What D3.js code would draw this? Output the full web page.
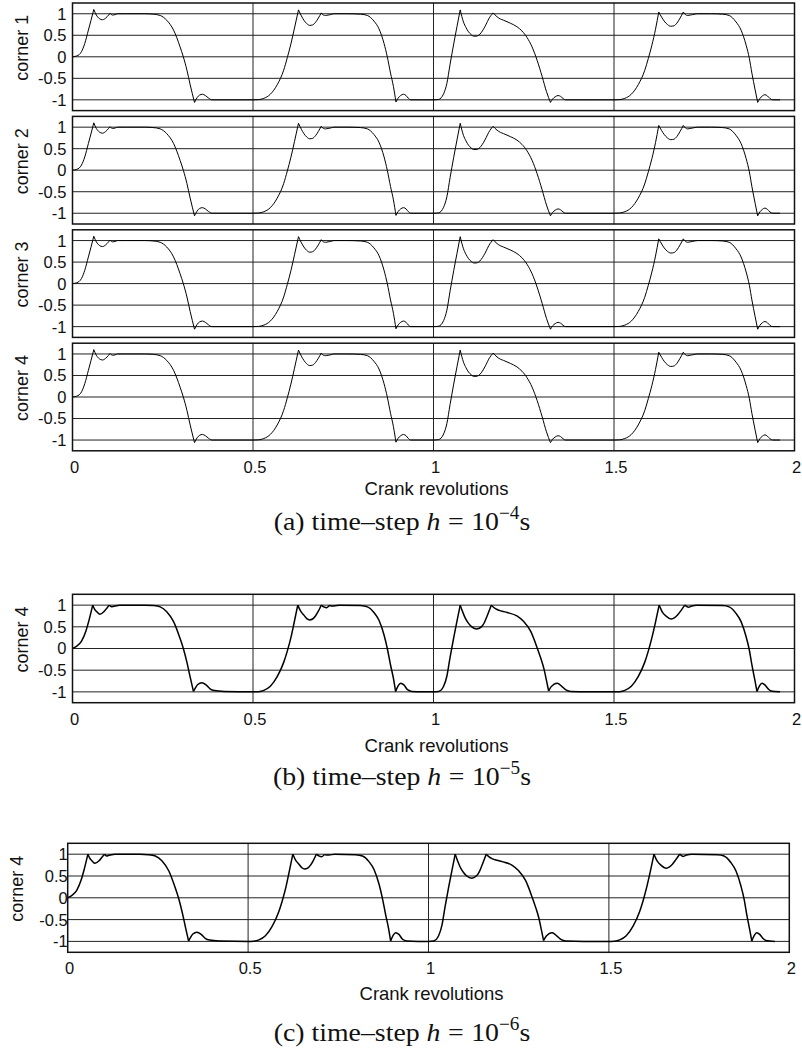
<!DOCTYPE html>
<html><head><meta charset="utf-8">
<script src="https://cdn.jsdelivr.net/npm/d3@7"></script>
<style>body{margin:0;background:#fff}svg{display:block}</style>
</head><body><svg id="chart" width="802" height="1053"></svg>
<script>
// ---------- data ----------
const xTickValues = [0, 0.5, 1, 1.5, 2];
const xTickLabels = ["0", "0.5", "1", "1.5", "2"];
const yTickValues = [1, 0.5, 0, -0.5, -1];
const yTickLabels = ["1", "0.5", "0", "-0.5", "-1"];
const xGridValues = [0.5, 1, 1.5];
const panelACorners = ["corner 1", "corner 2", "corner 3", "corner 4"];
const panelBCorners = ["corner 4"];
const panelCCorners = ["corner 4"];
const xAxisTitle = "Crank revolutions";
const captionLetters = ["(a)", "(b)", "(c)"];
const captionExponents = ["−4", "−5", "−6"];

// corner response, time-step 1e-4 s  (segments split at cusps; [revolutions, value])
const responseStep4 = [
  [[0,0],[0.012,0.02],[0.025,0.12],[0.034,0.31],[0.044,0.62],[0.051,0.84],[0.059,1.1]],
  [[0.059,1.1],[0.066,0.97],[0.074,0.89],[0.083,0.86],[0.092,0.9],[0.1,0.97],[0.104,1.01]],
  [[0.104,1.01],[0.111,0.97],[0.118,0.98],[0.125,1.0],[0.15,1.0],[0.2,1.0],[0.224,0.99],[0.243,0.96],[0.261,0.85],[0.28,0.62],[0.298,0.23],[0.307,0],[0.317,-0.31],[0.326,-0.65],[0.338,-1.06]],
  [[0.338,-1.06],[0.345,-0.95],[0.352,-0.89],[0.36,-0.87],[0.368,-0.9],[0.377,-0.96],[0.386,-1.0],[0.45,-1.0],[0.5,-1.0],[0.515,-0.995],[0.53,-0.965],[0.548,-0.87],[0.567,-0.65],[0.585,-0.31],[0.595,-0.02],[0.605,0.3],[0.615,0.67],[0.626,1.09]],
  [[0.626,1.09],[0.634,0.95],[0.641,0.85],[0.649,0.77],[0.657,0.73],[0.665,0.74],[0.673,0.8],[0.681,0.9],[0.689,1.02]],
  [[0.689,1.02],[0.695,0.97],[0.701,0.96],[0.708,0.97],[0.715,0.98],[0.724,1.0],[0.76,1.0],[0.798,0.99],[0.817,0.96],[0.835,0.83],[0.849,0.65],[0.863,0.31],[0.872,0],[0.881,-0.38],[0.889,-0.69],[0.896,-1.05]],
  [[0.896,-1.05],[0.902,-0.96],[0.909,-0.9],[0.917,-0.87],[0.924,-0.9],[0.93,-0.96],[0.937,-1.0],[0.97,-1.0],[1.0,-1.0],[1.014,-0.99],[1.028,-0.86],[1.037,-0.62],[1.046,-0.17],[1.056,0.3],[1.065,0.7],[1.074,1.09]],
  [[1.074,1.09],[1.083,0.81],[1.09,0.68],[1.097,0.58],[1.104,0.52],[1.111,0.48],[1.118,0.48],[1.125,0.5],[1.132,0.56],[1.139,0.65],[1.146,0.76],[1.153,0.88],[1.165,1.02]],
  [[1.165,1.02],[1.176,0.93],[1.185,0.88],[1.194,0.85],[1.213,0.78],[1.231,0.7],[1.245,0.6],[1.259,0.45],[1.273,0.23],[1.287,-0.08],[1.301,-0.46],[1.313,-0.81],[1.324,-1.06]],
  [[1.324,-1.06],[1.33,-0.98],[1.337,-0.93],[1.345,-0.9],[1.352,-0.92],[1.359,-0.97],[1.366,-1.0],[1.43,-1],[1.5,-1],[1.515,-0.995],[1.53,-0.965],[1.548,-0.87],[1.567,-0.65],[1.585,-0.32],[1.595,-0.04],[1.605,0.27],[1.615,0.64],[1.624,1.04]],
  [[1.624,1.04],[1.632,0.92],[1.639,0.83],[1.648,0.75],[1.657,0.71],[1.666,0.72],[1.674,0.78],[1.683,0.9],[1.692,1.04]],
  [[1.692,1.04],[1.698,0.98],[1.704,0.96],[1.711,0.97],[1.718,0.98],[1.731,1.0],[1.77,1.0],[1.801,0.99],[1.819,0.96],[1.838,0.81],[1.852,0.62],[1.866,0.27],[1.875,-0.04],[1.882,-0.38],[1.891,-0.77],[1.898,-1.06]],
  [[1.898,-1.06],[1.904,-0.97],[1.911,-0.91],[1.918,-0.88],[1.925,-0.91],[1.932,-0.97],[1.94,-1.0],[1.96,-1.0]]
];

// corner 4 response, time-steps 1e-5 s and 1e-6 s
const responseFine = [
  [[0,0],[0.011,0.05],[0.025,0.17],[0.037,0.4],[0.046,0.66],[0.056,1.0]],
  [[0.056,1.0],[0.061,0.91],[0.067,0.85],[0.076,0.79],[0.087,0.85],[0.095,0.93],[0.102,1.0]],
  [[0.102,1.0],[0.108,0.96],[0.113,0.97],[0.118,0.98],[0.13,1.0],[0.2,1.0],[0.224,0.99],[0.243,0.96],[0.261,0.85],[0.28,0.62],[0.298,0.23],[0.307,0],[0.317,-0.32],[0.326,-0.66],[0.335,-0.99]],
  [[0.335,-0.99],[0.341,-0.9],[0.347,-0.83],[0.358,-0.79],[0.37,-0.84],[0.381,-0.93],[0.393,-0.97],[0.42,-0.99],[0.5,-1.0],[0.515,-0.995],[0.53,-0.965],[0.548,-0.87],[0.567,-0.65],[0.585,-0.32],[0.595,-0.06],[0.605,0.25],[0.614,0.6],[0.624,1.0]],
  [[0.624,1.0],[0.632,0.86],[0.641,0.77],[0.649,0.69],[0.657,0.66],[0.665,0.68],[0.673,0.75],[0.681,0.86],[0.689,1.0]],
  [[0.689,1.0],[0.696,0.96],[0.704,0.94],[0.711,0.99]],
  [[0.711,0.99],[0.717,0.98],[0.724,0.98],[0.74,1.0],[0.798,0.99],[0.817,0.96],[0.835,0.83],[0.849,0.65],[0.863,0.31],[0.872,0],[0.881,-0.38],[0.889,-0.69],[0.895,-0.99]],
  [[0.895,-0.99],[0.902,-0.86],[0.909,-0.8],[0.918,-0.84],[0.928,-0.95],[0.94,-0.99],[0.97,-1.0],[1.0,-1.0],[1.014,-0.99],[1.028,-0.87],[1.037,-0.64],[1.046,-0.2],[1.056,0.25],[1.065,0.63],[1.074,1.0]],
  [[1.074,1.0],[1.081,0.84],[1.088,0.7],[1.097,0.58],[1.106,0.5],[1.12,0.45],[1.134,0.51],[1.141,0.6],[1.148,0.74],[1.16,1.0]],
  [[1.16,1.0],[1.168,0.94],[1.176,0.9],[1.19,0.86],[1.204,0.83],[1.231,0.75],[1.25,0.62],[1.269,0.4],[1.287,0.02],[1.297,-0.22],[1.306,-0.47],[1.313,-0.74],[1.319,-0.98]],
  [[1.319,-0.98],[1.326,-0.88],[1.333,-0.83],[1.343,-0.8],[1.356,-0.88],[1.368,-0.96],[1.38,-0.99],[1.43,-1.0],[1.5,-1.0],[1.515,-0.995],[1.53,-0.965],[1.548,-0.87],[1.567,-0.65],[1.585,-0.32],[1.595,-0.06],[1.605,0.25],[1.615,0.61],[1.625,1.0]],
  [[1.625,1.0],[1.634,0.84],[1.644,0.75],[1.659,0.68],[1.668,0.71],[1.676,0.77],[1.686,0.88],[1.696,1.0]],
  [[1.696,1.0],[1.701,0.97],[1.706,0.95],[1.715,0.98],[1.73,1.0],[1.801,0.99],[1.819,0.96],[1.838,0.81],[1.852,0.62],[1.866,0.27],[1.875,-0.04],[1.882,-0.38],[1.89,-0.72],[1.896,-0.99]],
  [[1.896,-0.99],[1.903,-0.86],[1.91,-0.8],[1.918,-0.84],[1.926,-0.92],[1.935,-0.98],[1.96,-1.0]]
];

// ---------- drawing ----------
const svg = d3.select("#chart");
const SANS = "'Liberation Sans', Arial, sans-serif";
const SERIF = "'Liberation Serif', 'Times New Roman', serif";

function drawPanel(cfg) {
  const x = d3.scaleLinear().domain([0, 2]).range([cfg.x0, cfg.x1]);
  cfg.corners.forEach((name, i) => {
    const top = cfg.top + i * cfg.pitch;
    const bottom = top + cfg.height;
    const y = d3.scaleLinear().domain([-1.25, 1.25]).range([bottom, top]);
    const g = svg.append("g");
    g.selectAll(".hg").data(yTickValues).enter().append("line")
      .attr("x1", cfg.x0).attr("x2", cfg.x1)
      .attr("y1", d => y(d)).attr("y2", d => y(d))
      .attr("stroke", "#222").attr("stroke-width", 1);
    g.selectAll(".vg").data(xGridValues).enter().append("line")
      .attr("x1", d => x(d)).attr("x2", d => x(d))
      .attr("y1", top).attr("y2", bottom)
      .attr("stroke", "#222").attr("stroke-width", 1);
    const ln = d3.line().x(d => x(d[0])).y(d => y(d[1])).curve(d3.curveMonotoneX);
    g.selectAll(".seg").data(cfg.data).enter().append("path")
      .attr("d", ln).attr("fill", "none")
      .attr("stroke", "#000").attr("stroke-width", cfg.lw)
      .attr("stroke-linejoin", "miter");
    g.append("rect").attr("x", cfg.x0).attr("y", top)
      .attr("width", cfg.x1 - cfg.x0).attr("height", cfg.height)
      .attr("fill", "none").attr("stroke", "#111").attr("stroke-width", 1.5);
    g.selectAll(".yl").data(yTickValues).enter().append("text")
      .attr("x", cfg.x0 - cfg.yLabelGap).attr("y", d => y(d)).attr("dy", "0.36em")
      .attr("text-anchor", "end").attr("font-family", SANS).attr("font-size", 16.5)
      .attr("fill", "#111")
      .text((d, k) => yTickLabels[k]);
    g.append("text")
      .attr("transform", `translate(${cfg.titleX},${(top + bottom) / 2 - 9}) rotate(-90)`)
      .attr("text-anchor", "middle").attr("font-family", SANS).attr("font-size", 18)
      .attr("fill", "#111").text(name);
    if (i === cfg.corners.length - 1) {
      g.selectAll(".xl").data(xTickValues).enter().append("text")
        .attr("x", d => x(d) + 2).attr("y", bottom + 22)
        .attr("text-anchor", "middle").attr("font-family", SANS).attr("font-size", 16.5)
        .attr("fill", "#111").text((d, k) => xTickLabels[k]);
      g.append("text")
        .attr("x", (cfg.x0 + cfg.x1) / 2 + 3).attr("y", cfg.axisTitleY)
        .attr("text-anchor", "middle").attr("font-family", SANS).attr("font-size", 18.5)
        .attr("fill", "#111").text(xAxisTitle);
    }
  });
  const t = svg.append("text")
    .attr("transform", `translate(402,${cfg.captionY}) scale(1.07,1)`)
    .attr("text-anchor", "middle").attr("font-family", SERIF).attr("font-size", 26)
    .attr("fill", "#111");
  t.append("tspan").text(captionLetters[cfg.idx] + " time–step ");
  t.append("tspan").attr("font-style", "italic").text("h");
  t.append("tspan").attr("dx", 7).text("=");
  t.append("tspan").attr("dx", 7).text("10");
  t.append("tspan").attr("font-size", 18).attr("dy", -11).text(captionExponents[cfg.idx]);
  t.append("tspan").attr("dy", 11).text("s");
}

drawPanel({ idx: 0, corners: panelACorners, data: responseStep4, x0: 72.5, x1: 794.5,
  top: 3, pitch: 113.4, height: 107.6, lw: 1, yLabelGap: 6, titleX: 28,
  axisTitleY: 495, captionY: 530 });
drawPanel({ idx: 1, corners: panelBCorners, data: responseFine, x0: 72.5, x1: 794.5,
  top: 594.3, pitch: 0, height: 108.4, lw: 1.5, yLabelGap: 6, titleX: 28,
  axisTitleY: 752, captionY: 785 });
drawPanel({ idx: 2, corners: panelCCorners, data: responseFine, x0: 67.7, x1: 789.3,
  top: 843.3, pitch: 0, height: 109, lw: 1.5, yLabelGap: 0, titleX: 23,
  axisTitleY: 1000, captionY: 1041 });
</script>
</body></html>
